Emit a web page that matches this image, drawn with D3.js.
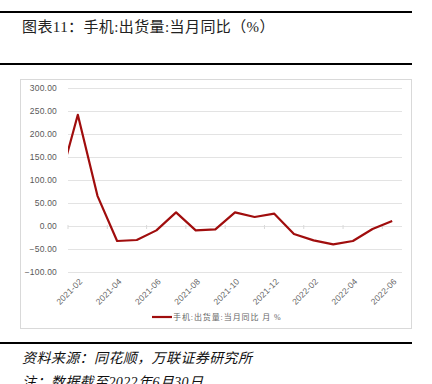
<!DOCTYPE html>
<html>
<head>
<meta charset="utf-8">
<script src="https://cdn.jsdelivr.net/npm/d3@7"></script>
<style>
  body { margin: 0; background: #fff; }
  svg { display: block; }
</style>
</head>
<body>
<div id="graph"></div>
<script>
// months, first one sits left of the plot and is clipped
const months = ["2021-01", "2021-02", "2021-03", "2021-04", "2021-05", "2021-06",
  "2021-07", "2021-08", "2021-09", "2021-10", "2021-11", "2021-12",
  "2022-01", "2022-02", "2022-03", "2022-04", "2022-05", "2022-06"];
const yoyValues = [85, 241.8, 65.6, -32.6, -30.4, -9.5, 29.7, -9.4, -7.3, 29.7,
  19.6, 26.8, -17.4, -31.2, -39.9, -32.6, -6.5, 10.9];
const yTicks = [-100, -50, 0, 50, 100, 150, 200, 250, 300];
const tickLabelMonths = ["2021-02", "2021-04", "2021-06", "2021-08", "2021-10",
  "2021-12", "2022-02", "2022-04", "2022-06"];
const titleText = "图表11：手机:出货量:当月同比（%）";
const legendText = "手机:出货量:当月同比 月 %";
const sourceText = "资料来源：同花顺，万联证券研究所";
const noteText = "注：数据截至2022年6月30日";

const W = 432, H = 384;
const config = { left: 68, right: 402, top: 88, bottom: 272 };
const lineColor = "#a00d0d";
const serif = "'Liberation Serif', 'Noto Sans CJK SC', serif";
const sans = "'Liberation Sans', 'Noto Sans CJK SC', sans-serif";

const svg = d3.select("#graph").append("svg").attr("width", W).attr("height", H);

// header / footer rules
[12, 64, 343].forEach((y) => {
  svg.append("line").attr("x1", 0).attr("x2", 412).attr("y1", y).attr("y2", y)
    .attr("stroke", "#000").attr("stroke-width", 2);
});

svg.append("text").attr("x", 22).attr("y", 32).text(titleText)
  .style("font-family", serif).style("font-size", "15px").style("letter-spacing", "0.4px")
  .attr("fill", "#222");

// chart frame
svg.append("rect").attr("x", 20.5).attr("y", 79.5).attr("width", 391).attr("height", 249)
  .attr("fill", "#fff").attr("stroke", "#d9d9d9");

// x: category index, bands centred on months; index 0 sits half a step off the left edge
const x = d3.scaleLinear().domain([0.5, months.length - 0.5]).range([config.left, config.right]);
const y = d3.scaleLinear().domain([-100, 300]).range([config.bottom, config.top]);

const grid = svg.append("g");
grid.selectAll("line").data(yTicks).enter().append("line")
  .attr("x1", config.left).attr("x2", config.right)
  .attr("y1", (d) => Math.round(y(d)) + 0.5).attr("y2", (d) => Math.round(y(d)) + 0.5)
  .attr("stroke", "#e3e3e3").attr("stroke-width", 1);

const yAxis = d3.axisLeft(y).tickValues(yTicks).tickSize(0).tickPadding(11)
  .tickFormat(d3.format(".2f"));
svg.append("g").attr("transform", `translate(${config.left},0)`).call(yAxis)
  .call((g) => g.select(".domain").remove())
  .call((g) => g.selectAll("text").attr("fill", "#595959")
    .style("font-family", sans).style("font-size", "8.5px").style("letter-spacing", "0.2px"));

// small ticks on the zero line at left boundary of labelled months
svg.append("g").selectAll("line").data(tickLabelMonths).enter().append("line")
  .attr("x1", (d) => x(months.indexOf(d) - 0.5)).attr("x2", (d) => x(months.indexOf(d) - 0.5))
  .attr("y1", Math.round(y(0)) - 1).attr("y2", Math.round(y(0)) + 3)
  .attr("stroke", "#d9d9d9");

// rotated month labels
svg.append("g").selectAll("text").data(tickLabelMonths).enter().append("text")
  .attr("transform", (d) => `translate(${x(months.indexOf(d)) + 3},${config.bottom + 8}) rotate(-45)`)
  .attr("text-anchor", "end").attr("dy", "0.35em")
  .text((d) => d).attr("fill", "#666")
  .style("font-family", sans).style("font-size", "8.5px").style("letter-spacing", "0.2px");

svg.append("clipPath").attr("id", "plot-clip").append("rect")
  .attr("x", config.left).attr("y", 0).attr("width", config.right - config.left).attr("height", H);

const line = d3.line().x((d, i) => x(i)).y((d) => y(d));
svg.append("path").datum(yoyValues).attr("d", line)
  .attr("clip-path", "url(#plot-clip)")
  .attr("fill", "none").attr("stroke", lineColor).attr("stroke-width", 2.2)
  .attr("stroke-linejoin", "round");

// legend
const legend = svg.append("g").attr("transform", "translate(152,317)");
legend.append("line").attr("x1", 0).attr("x2", 20).attr("y1", 0).attr("y2", 0)
  .attr("stroke", lineColor).attr("stroke-width", 2.2);
legend.append("text").attr("x", 21).attr("dy", "0.35em").text(legendText)
  .attr("fill", "#666").style("font-family", serif).style("font-size", "8px")
  .style("letter-spacing", "0.9px");

// footer
svg.append("text").attr("x", 22).attr("y", 363).text(sourceText)
  .style("font-family", serif).style("font-size", "14px").style("font-style", "italic")
  .style("letter-spacing", "0.4px").attr("fill", "#111");
svg.append("text").attr("x", 22).attr("y", 387).text(noteText)
  .style("font-family", serif).style("font-size", "14px").style("font-style", "italic")
  .style("letter-spacing", "0.4px").attr("fill", "#111");
</script>
</body>
</html>
